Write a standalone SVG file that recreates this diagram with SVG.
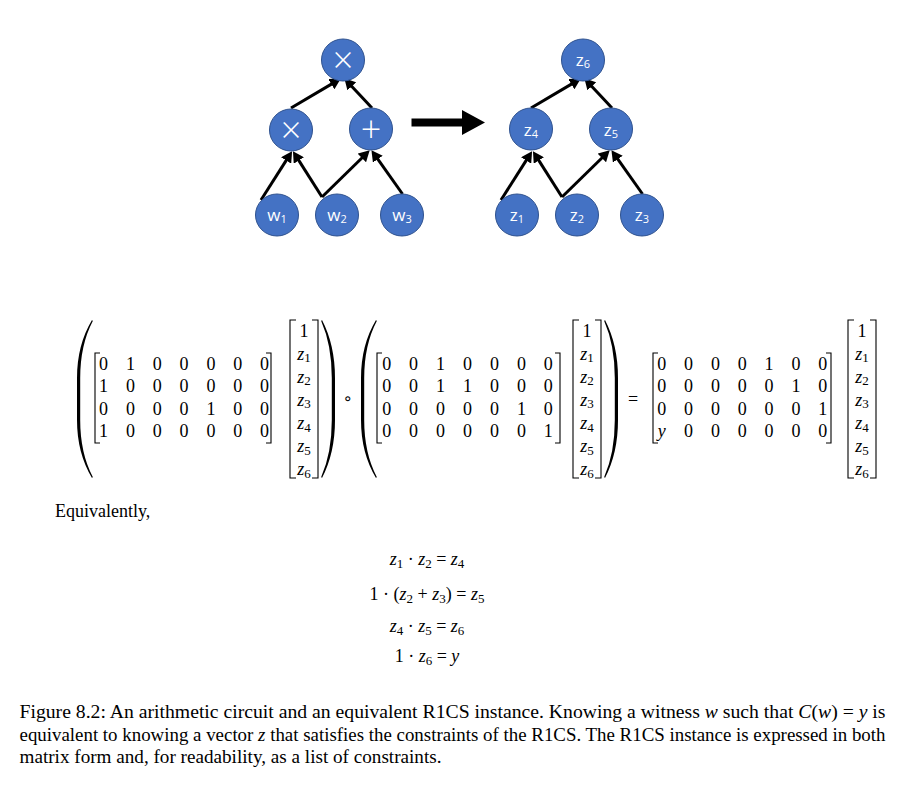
<svg xmlns="http://www.w3.org/2000/svg" width="903" height="803" viewBox="0 0 903 803">
<style>
.node ellipse{fill:#4472C4;stroke:#2F528F;stroke-width:1}
.lbl{font-family:"Open Sans","Liberation Sans",sans-serif;font-size:17px;fill:#fff;text-anchor:middle}
.sb{font-size:11px}
.op{font-family:"Open Sans","Liberation Sans",sans-serif;font-weight:300;font-size:36px;fill:#fff;text-anchor:middle}
.conn line{stroke:#000;stroke-width:3;marker-end:url(#ah)}
.m{font-family:"Liberation Serif","Times New Roman",serif;font-size:18px;fill:#000}
.cap{font-size:19px}
.mc{text-anchor:middle}
.it{font-style:italic}
.sub{font-size:13px}
.br{fill:none;stroke:#000;stroke-width:1.1}
.par{fill:#000}
</style>
<defs>
<marker id="ah" markerUnits="userSpaceOnUse" markerWidth="12" markerHeight="12" refX="4" refY="6" orient="auto">
<path d="M0,0 L11,6 L0,12 Z" fill="#000"/>
</marker>
</defs>
<rect width="903" height="803" fill="#fff"/>

<g id="connectors" class="conn">
<line x1="261" y1="200" x2="288.3" y2="157.1"/>
<line x1="322" y1="197" x2="296.7" y2="157.1"/>
<line x1="322" y1="197" x2="364.7" y2="155.2"/>
<line x1="402.5" y1="194" x2="375.5" y2="155.9"/>
<line x1="291" y1="108" x2="334.8" y2="82.1"/>
<line x1="372" y1="108" x2="349.1" y2="83.4"/>
<line x1="501" y1="200" x2="528.3" y2="157.1"/>
<line x1="562" y1="197" x2="536.7" y2="157.1"/>
<line x1="562" y1="197" x2="604.7" y2="155.2"/>
<line x1="642.5" y1="194" x2="615.5" y2="155.9"/>
<line x1="531" y1="108" x2="574.8" y2="82.1"/>
<line x1="612" y1="108" x2="589.1" y2="83.4"/>
</g>

<g id="big-arrow">
<path d="M411.5,118.5 L462,118.5 L462,110 L485,122.5 L462,135 L462,126.5 L411.5,126.5 Z" fill="#000"/>
</g>

<g id="n-times-top" class="node"><ellipse cx="343" cy="60" rx="21.5" ry="21"/><text class="op" x="343" y="72.5">×</text></g>
<g id="n-times-mid" class="node"><ellipse cx="291" cy="130" rx="21.5" ry="21"/><text class="op" x="291" y="142.5">×</text></g>
<g id="n-plus" class="node"><ellipse cx="371" cy="129" rx="21.5" ry="21"/><text class="op" x="371" y="141.5">+</text></g>
<g id="n-w1" class="node"><ellipse cx="277" cy="215" rx="21.5" ry="21"/><text class="lbl" x="277" y="221">w<tspan class="sb" dy="2">1</tspan></text></g>
<g id="n-w2" class="node"><ellipse cx="337" cy="215" rx="21.5" ry="21"/><text class="lbl" x="337" y="221">w<tspan class="sb" dy="2">2</tspan></text></g>
<g id="n-w3" class="node"><ellipse cx="402" cy="215" rx="21.5" ry="21"/><text class="lbl" x="402" y="221">w<tspan class="sb" dy="2">3</tspan></text></g>

<g id="n-z6" class="node"><ellipse cx="583" cy="60" rx="21.5" ry="21"/><text class="lbl" x="583" y="65.5">z<tspan class="sb" dy="2">6</tspan></text></g>
<g id="n-z4" class="node"><ellipse cx="531" cy="129" rx="21.5" ry="21"/><text class="lbl" x="531" y="135.5">z<tspan class="sb" dy="2">4</tspan></text></g>
<g id="n-z5" class="node"><ellipse cx="611" cy="129" rx="21.5" ry="21"/><text class="lbl" x="611" y="135.5">z<tspan class="sb" dy="2">5</tspan></text></g>
<g id="n-z1" class="node"><ellipse cx="517" cy="215" rx="21.5" ry="21"/><text class="lbl" x="517" y="221">z<tspan class="sb" dy="2">1</tspan></text></g>
<g id="n-z2" class="node"><ellipse cx="577" cy="215" rx="21.5" ry="21"/><text class="lbl" x="577" y="221">z<tspan class="sb" dy="2">2</tspan></text></g>
<g id="n-z3" class="node"><ellipse cx="642" cy="215" rx="21.5" ry="21"/><text class="lbl" x="642" y="221">z<tspan class="sb" dy="2">3</tspan></text></g>

<g id="matrix-equation">
<path class="par" d="M92,320 Q77,345 77,378 L77,420 Q77,453 92,478 L92.8,477 Q80.2,453 80.2,420 L80.2,378 Q80.2,345 92.8,321 Z"/>
<path class="par" d="M322,320 Q335,345 335,378 L335,420 Q335,453 322,478 L321.2,477 Q331.8,453 331.8,420 L331.8,378 Q331.8,345 321.2,321 Z"/>
<path class="par" d="M376,320 Q361,345 361,378 L361,420 Q361,453 376,478 L376.8,477 Q364.2,453 364.2,420 L364.2,378 Q364.2,345 376.8,321 Z"/>
<path class="par" d="M605,320 Q618,345 618,378 L618,420 Q618,453 605,478 L604.2,477 Q614.8,453 614.8,420 L614.8,378 Q614.8,345 604.2,321 Z"/>

<path class="br" d="M100,353 H95 V443 H100 M266,353 H271 V443 H266"/>
<path class="br" d="M382,353 H377 V443 H382 M555,353 H560 V443 H555"/>
<path class="br" d="M658,353 H653 V443 H658 M826,353 H831 V443 H826"/>
<path class="br" d="M296,320 H290 V478 H296 M312,320 H318 V478 H312"/>
<path class="br" d="M579,320 H573 V478 H579 M595,320 H601 V478 H595"/>
<path class="br" d="M854,320 H848 V478 H854 M870,320 H876 V478 H870"/>

<text class="m mc" x="103.5 130.4 157.2 184.1 210.9 237.8 264.6" y="369.5">0100000</text>
<text class="m mc" x="103.5 130.4 157.2 184.1 210.9 237.8 264.6" y="392">1000000</text>
<text class="m mc" x="103.5 130.4 157.2 184.1 210.9 237.8 264.6" y="414.5">0000100</text>
<text class="m mc" x="103.5 130.4 157.2 184.1 210.9 237.8 264.6" y="437">1000000</text>
<text class="m mc" x="386.7 413.6 440.6 467.5 494.4 521.4 548.3" y="369.5">0010000</text>
<text class="m mc" x="386.7 413.6 440.6 467.5 494.4 521.4 548.3" y="392">0011000</text>
<text class="m mc" x="386.7 413.6 440.6 467.5 494.4 521.4 548.3" y="414.5">0000010</text>
<text class="m mc" x="386.7 413.6 440.6 467.5 494.4 521.4 548.3" y="437">0000001</text>
<text class="m mc" x="661.7 688.5 715.4 742.2 769 795.9 822.7" y="369.5">0000100</text>
<text class="m mc" x="661.7 688.5 715.4 742.2 769 795.9 822.7" y="392">0000010</text>
<text class="m mc" x="661.7 688.5 715.4 742.2 769 795.9 822.7" y="414.5">0000001</text>
<text class="m mc" x="661.7" y="437" font-style="italic">y</text>
<text class="m mc" x="688.5 715.4 742.2 769 795.9 822.7" y="437">000000</text>

<text class="m mc" x="304" y="337" font-size="19">1</text>
<text class="m mc" x="304" y="359.5"><tspan class="it">z</tspan><tspan class="sub" dy="2.5">1</tspan></text>
<text class="m mc" x="304" y="382.5"><tspan class="it">z</tspan><tspan class="sub" dy="2.5">2</tspan></text>
<text class="m mc" x="304" y="405.5"><tspan class="it">z</tspan><tspan class="sub" dy="2.5">3</tspan></text>
<text class="m mc" x="304" y="429"><tspan class="it">z</tspan><tspan class="sub" dy="2.5">4</tspan></text>
<text class="m mc" x="304" y="452"><tspan class="it">z</tspan><tspan class="sub" dy="2.5">5</tspan></text>
<text class="m mc" x="304" y="475"><tspan class="it">z</tspan><tspan class="sub" dy="2.5">6</tspan></text>

<text class="m mc" x="587" y="337" font-size="19">1</text>
<text class="m mc" x="587" y="359.5"><tspan class="it">z</tspan><tspan class="sub" dy="2.5">1</tspan></text>
<text class="m mc" x="587" y="382.5"><tspan class="it">z</tspan><tspan class="sub" dy="2.5">2</tspan></text>
<text class="m mc" x="587" y="405.5"><tspan class="it">z</tspan><tspan class="sub" dy="2.5">3</tspan></text>
<text class="m mc" x="587" y="429"><tspan class="it">z</tspan><tspan class="sub" dy="2.5">4</tspan></text>
<text class="m mc" x="587" y="452"><tspan class="it">z</tspan><tspan class="sub" dy="2.5">5</tspan></text>
<text class="m mc" x="587" y="475"><tspan class="it">z</tspan><tspan class="sub" dy="2.5">6</tspan></text>

<text class="m mc" x="862" y="337" font-size="19">1</text>
<text class="m mc" x="862" y="359.5"><tspan class="it">z</tspan><tspan class="sub" dy="2.5">1</tspan></text>
<text class="m mc" x="862" y="382.5"><tspan class="it">z</tspan><tspan class="sub" dy="2.5">2</tspan></text>
<text class="m mc" x="862" y="405.5"><tspan class="it">z</tspan><tspan class="sub" dy="2.5">3</tspan></text>
<text class="m mc" x="862" y="429"><tspan class="it">z</tspan><tspan class="sub" dy="2.5">4</tspan></text>
<text class="m mc" x="862" y="452"><tspan class="it">z</tspan><tspan class="sub" dy="2.5">5</tspan></text>
<text class="m mc" x="862" y="475"><tspan class="it">z</tspan><tspan class="sub" dy="2.5">6</tspan></text>

<text x="347.5" y="404" text-anchor="middle" font-family="DejaVu Sans, sans-serif" font-size="16">∘</text>
<text class="m mc" x="633" y="404.5" font-size="19">=</text>
</g>

<text class="m" x="55" y="517">Equivalently,</text>

<g id="constraints" class="m">
<text class="mc" x="427" y="565"><tspan class="it">z</tspan><tspan class="sub" dy="2.5">1</tspan><tspan dy="-2.5"> · </tspan><tspan class="it">z</tspan><tspan class="sub" dy="2.5">2</tspan><tspan dy="-2.5"> = </tspan><tspan class="it">z</tspan><tspan class="sub" dy="2.5">4</tspan></text>
<text class="mc" x="427" y="600">1 · (<tspan class="it">z</tspan><tspan class="sub" dy="2.5">2</tspan><tspan dy="-2.5"> + </tspan><tspan class="it">z</tspan><tspan class="sub" dy="2.5">3</tspan><tspan dy="-2.5">) = </tspan><tspan class="it">z</tspan><tspan class="sub" dy="2.5">5</tspan></text>
<text class="mc" x="427" y="632"><tspan class="it">z</tspan><tspan class="sub" dy="2.5">4</tspan><tspan dy="-2.5"> · </tspan><tspan class="it">z</tspan><tspan class="sub" dy="2.5">5</tspan><tspan dy="-2.5"> = </tspan><tspan class="it">z</tspan><tspan class="sub" dy="2.5">6</tspan></text>
<text class="mc" x="427" y="662">1 · <tspan class="it">z</tspan><tspan class="sub" dy="2.5">6</tspan><tspan dy="-2.5"> = </tspan><tspan class="it">y</tspan></text>
</g>

<g id="caption" class="m cap">
<text x="19.5" y="718" textLength="866" lengthAdjust="spacingAndGlyphs">Figure 8.2:  An arithmetic circuit and an equivalent R1CS instance.  Knowing a witness <tspan class="it">w</tspan> such that <tspan class="it">C</tspan>(<tspan class="it">w</tspan>) = <tspan class="it">y</tspan> is</text>
<text x="19.5" y="741" textLength="866" lengthAdjust="spacingAndGlyphs">equivalent to knowing a vector <tspan class="it">z</tspan> that satisfies the constraints of the R1CS. The R1CS instance is expressed in both</text>
<text x="19.5" y="763" textLength="422" lengthAdjust="spacingAndGlyphs">matrix form and, for readability, as a list of constraints.</text>
</g>
</svg>
